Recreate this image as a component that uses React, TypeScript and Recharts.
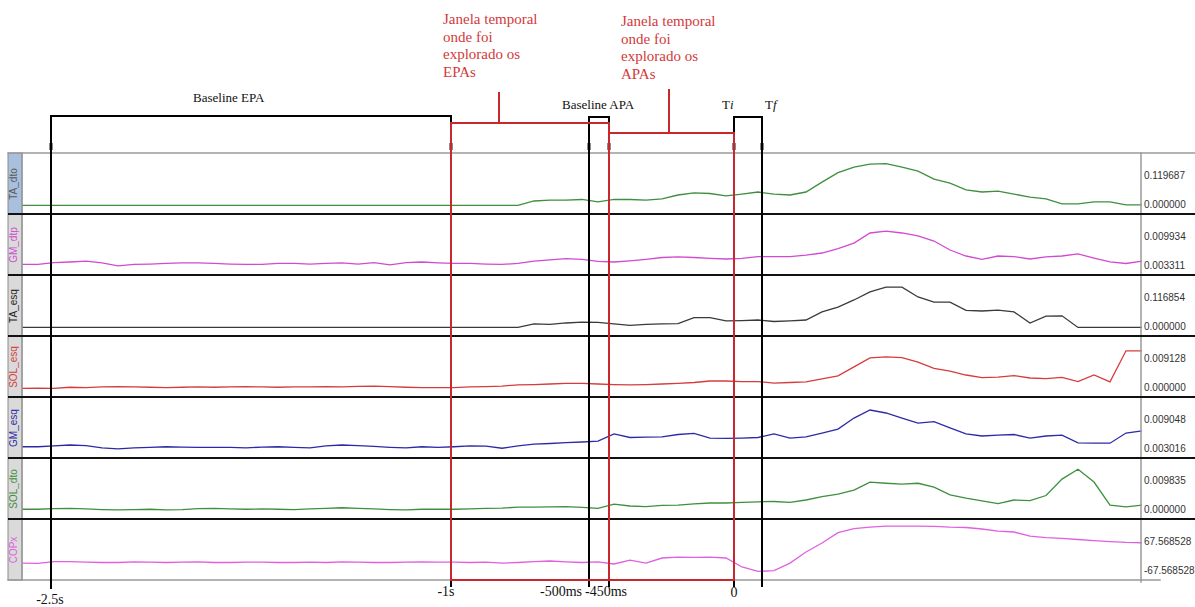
import { LineChart, Line, XAxis, YAxis, ReferenceLine, ReferenceArea } from 'recharts';

const W = 1195;
const H = 607;
const UNIT = 61; // px height of one channel strip
const ZERO_Y = 580; // px of the bottom edge of the last strip
const py = (px: number) => (ZERO_Y - px) / UNIT;

// sample positions along the record (one every 16 px of trace)
const samples = Array.from({ length: 71 }, (_, i) => 22 + 16 * i);

// amplitudes, 0 = lower scale label, 1 = upper scale label of each strip
const taDto = [
  0, 0, 0, 0, 0, 0, 0, 0, 0, 0, 0, 0, 0, 0, 0, 0, 0, 0, 0, 0, 0, 0, 0, 0, 0, 0, 0, 0, 0, 0, 0, 0,
  0.15, 0.18, 0.18, 0.2, 0.12, 0.2, 0.2, 0.18, 0.22, 0.35, 0.42, 0.4, 0.32, 0.38, 0.45, 0.38, 0.35, 0.45,
  0.78, 1.1, 1.28, 1.38, 1.4, 1.28, 1.15, 0.88, 0.75, 0.52, 0.45, 0.48, 0.38, 0.28, 0.22, 0.05, 0.05,
  0.12, 0.12, 0.02, 0.02,
];
const gmDtp = [
  0.07, 0.07, 0.13, 0.15, 0.18, 0.12, 0.02, 0.07, 0.08, 0.1,
  0.12, 0.12, 0.1, 0.08, 0.07, 0.07, 0.1, 0.1, 0.08, 0.1,
  0.12, 0.08, 0.13, 0.05, 0.13, 0.15, 0.12, 0.1, 0.1, 0.08,
  0.07, 0.1, 0.18, 0.22, 0.26, 0.24, 0.17, 0.15, 0.19, 0.24,
  0.3, 0.32, 0.3, 0.27, 0.25, 0.27, 0.33, 0.33, 0.33, 0.38,
  0.45, 0.6, 0.78, 1.12, 1.18, 1.12, 1.02, 0.85, 0.55, 0.35,
  0.24, 0.35, 0.33, 0.25, 0.32, 0.35, 0.42, 0.28, 0.15, 0.1, 0.18,
];
const taEsq = [
  0, 0, 0, 0, 0, 0, 0, 0, 0, 0, 0, 0, 0, 0, 0, 0, 0, 0, 0, 0, 0, 0, 0, 0, 0, 0, 0, 0, 0, 0, 0, 0,
  0.12, 0.1, 0.15, 0.18, 0.17, 0.12, 0.07, 0.1, 0.12, 0.13,
  0.33, 0.33, 0.22, 0.23, 0.25, 0.2, 0.22, 0.25, 0.52, 0.68,
  0.92, 1.19, 1.35, 1.35, 1.02, 0.85, 0.85, 0.57, 0.55, 0.58,
  0.52, 0.15, 0.38, 0.39, 0, 0, 0, 0, 0,
];
const solEsq = [
  0.0, 0.01, 0.0, 0.04, 0.03, 0.05, 0.06, 0.05, 0.04, 0.03, 0.04, 0.05, 0.04, 0.05, 0.06, 0.05,
  0.04, 0.05, 0.05, 0.06, 0.05, 0.07, 0.08, 0.06, 0.04,
  0.03, 0.03, 0.03, 0.05, 0.06, 0.08, 0.12,
  0.13, 0.15, 0.17, 0.17, 0.15, 0.13, 0.12, 0.13, 0.15, 0.17,
  0.2, 0.25, 0.25, 0.23, 0.23, 0.18, 0.2, 0.22, 0.32, 0.42,
  0.72, 1.02, 1.06, 1.03, 0.88, 0.67, 0.58, 0.45, 0.36, 0.38,
  0.43, 0.35, 0.33, 0.37, 0.23, 0.45, 0.22, 1.26, 1.26,
];
const gmEsq = [
  0.09, 0.09, 0.12, 0.15, 0.13, 0.05, 0.02, 0.05, 0.07, 0.09,
  0.08, 0.07, 0.07, 0.07, 0.05, 0.08, 0.09, 0.07, 0.05, 0.12,
  0.15, 0.13, 0.1, 0.07, 0.05, 0.09, 0.07, 0.09, 0.12, 0.11,
  0.04, 0.12, 0.18, 0.2, 0.23, 0.25, 0.28, 0.52, 0.4, 0.41,
  0.42, 0.5, 0.54, 0.38, 0.37, 0.38, 0.4, 0.52, 0.38, 0.42,
  0.55, 0.68, 1.05, 1.32, 1.22, 1.05, 0.88, 0.93, 0.72, 0.52,
  0.45, 0.48, 0.5, 0.38, 0.45, 0.48, 0.22, 0.21, 0.21, 0.55, 0.62,
];
const solDto = [
  0.04, 0.04, 0.06, 0.07, 0.05, 0.03, 0.02, 0.03, 0.04, 0.02,
  0.03, 0.06, 0.07, 0.05, 0.04, 0.05, 0.04, 0.03, 0.05, 0.07,
  0.09, 0.07, 0.05, 0.03, 0.02, 0.04, 0.04, 0.04, 0.05, 0.07,
  0.08, 0.11, 0.11, 0.12, 0.13, 0.1, 0.07, 0.21, 0.15, 0.13,
  0.17, 0.18, 0.22, 0.25, 0.25, 0.27, 0.29, 0.3, 0.27, 0.35,
  0.46, 0.55, 0.68, 0.95, 0.91, 0.88, 0.91, 0.78, 0.52, 0.41,
  0.32, 0.23, 0.35, 0.33, 0.5, 1.05, 1.38, 0.95, 0.18, 0.12, 0.18,
];
const copx = [
  0.28, 0.27, 0.33, 0.33, 0.31, 0.3, 0.3, 0.32, 0.31, 0.3,
  0.31, 0.32, 0.3, 0.3, 0.31, 0.31, 0.3, 0.3, 0.31, 0.3,
  0.32, 0.31, 0.3, 0.3, 0.31, 0.32, 0.31, 0.31, 0.3, 0.31,
  0.28, 0.3, 0.33, 0.35, 0.32, 0.3, 0.32, 0.25, 0.38, 0.28,
  0.45, 0.48, 0.47, 0.48, 0.45, 0.15, 0.0, 0.03, 0.28, 0.65,
  0.95, 1.3, 1.43, 1.48, 1.52, 1.52, 1.52, 1.51, 1.48, 1.47,
  1.42, 1.35, 1.32, 1.18, 1.13, 1.11, 1.07, 1.03, 1.0, 0.97, 0.96,
];

const channels = [
  { key: 'TA_dto', values: taDto, color: '#3f8f3f', text: '#5a5a5a', box: '#a8c0dd', hi: '0.119687', lo: '0.000000' },
  { key: 'GM_dtp', values: gmDtp, color: '#d24ad2', text: '#d24ad2', box: '#dadada', hi: '0.009934', lo: '0.003311' },
  { key: 'TA_esq', values: taEsq, color: '#3a3a3a', text: '#222222', box: '#dadada', hi: '0.116854', lo: '0.000000' },
  { key: 'SOL_esq', values: solEsq, color: '#d63c3c', text: '#d63c3c', box: '#dadada', hi: '0.009128', lo: '0.000000' },
  { key: 'GM_esq', values: gmEsq, color: '#2b2ba8', text: '#2b2ba8', box: '#dadada', hi: '0.009048', lo: '0.003016' },
  { key: 'SOL_dto', values: solDto, color: '#3f8f3f', text: '#3f8f3f', box: '#dadada', hi: '0.009835', lo: '0.000000' },
  { key: 'COPx', values: copx, color: '#e060e0', text: '#e060e0', box: '#dadada', hi: '67.568528', lo: '-67.568528' },
];

// event markers along the record
const markers = { epaStart: 51, minus1s: 451, minus500: 589, minus450: 609, zero: 734, tf: 762 };

const timeLabels = [
  { text: '-2.5s', x: 50, y: 600 },
  { text: '-1s', x: 446, y: 592 },
  { text: '-500ms', x: 561, y: 592 },
  { text: '-450ms', x: 606, y: 592 },
  { text: '0', x: 734, y: 593 },
];

const epaNote = ['Janela temporal', 'onde foi', 'explorado os', 'EPAs'];
const apaNote = ['Janela temporal', 'onde foi', 'explorado os', 'APAs'];

const LOW = 0.14;
const SPAN = 0.49;
const baseOf = (k: number) => channels.length - 1 - k;

const rows = samples.map((t, i) => {
  const row: Record<string, number> = { t };
  channels.forEach((c, k) => {
    row[c.key] = baseOf(k) + LOW + SPAN * c.values[i];
  });
  return row;
});

const RED = '#c8282d';
const serif = '"Liberation Serif", "DejaVu Serif", serif';
const sans = '"Liberation Sans", Arial, sans-serif';

function seg(x1: number, y1: number, x2: number, y2: number, stroke: string, w = 2) {
  return (
    <ReferenceLine
      key={`${x1}-${y1}-${x2}-${y2}-${stroke}`}
      segment={[{ x: x1, y: py(y1) }, { x: x2, y: py(y2) }]}
      stroke={stroke}
      strokeWidth={w}
      strokeLinecap="square"
    />
  );
}

export default function App() {
  const m = markers;
  return (
    <div style={{ position: 'absolute', left: 0, top: 0, width: W, height: H, background: '#fff', overflow: 'hidden' }}>
      <LineChart width={W} height={H} data={rows} margin={{ top: 0, right: 0, bottom: 0, left: 0 }}>
        <XAxis dataKey="t" type="number" domain={[0, W]} allowDataOverflow hide />
        <YAxis type="number" domain={[py(H), py(0)]} allowDataOverflow hide />

        {channels.map((c, k) => (
          <ReferenceArea
            key={`box-${c.key}`}
            x1={8}
            x2={22}
            y1={baseOf(k)}
            y2={baseOf(k) + 1}
            fill={c.box}
            fillOpacity={1}
            stroke="#8a8a8a"
            strokeWidth={1}
          />
        ))}

        {channels.map((c) => (
          <Line
            key={c.key}
            dataKey={c.key}
            type="linear"
            stroke={c.color}
            strokeWidth={1.3}
            dot={false}
            activeDot={false}
            legendType="none"
            isAnimationActive={false}
          />
        ))}

        {/* strip frame */}
        {seg(8, 153, 1195, 153, '#9a9a9a', 1.5)}
        {seg(8, 580, 1160, 580, '#9a9a9a', 1.5)}
        {seg(22, 153, 22, 580, '#9a9a9a', 1.5)}
        {seg(1141, 153, 1141, 582, '#9a9a9a', 1.5)}
        {[1, 2, 3, 4, 5, 6].map((b) => (
          <ReferenceLine
            key={`sep-${b}`}
            segment={[{ x: 8, y: b }, { x: 1195, y: b }]}
            stroke="#111"
            strokeWidth={2}
          />
        ))}

        {/* small event ticks */}
        {Object.values(m).map((x) => (
          <ReferenceArea key={`tick-${x}`} x1={x - 2} x2={x + 2} y1={py(150)} y2={py(143)} fill="#6b6b6b" fillOpacity={0.8} />
        ))}

        {/* black brackets */}
        {seg(m.epaStart, 116, m.epaStart, 588, '#000')}
        {seg(m.epaStart, 116, m.minus1s, 116, '#000')}
        {seg(m.minus1s, 116, m.minus1s, 586, '#000')}
        {seg(m.minus500, 117, m.minus500, 586, '#000')}
        {seg(m.minus500, 117, m.minus450, 117, '#000')}
        {seg(m.minus450, 117, m.minus450, 586, '#000')}
        {seg(m.zero, 117, m.zero, 586, '#000')}
        {seg(m.zero, 117, m.tf, 117, '#000')}
        {seg(m.tf, 117, m.tf, 586, '#000')}

        {/* red analysis windows */}
        {seg(m.minus1s, 123, m.minus450, 123, RED)}
        {seg(m.minus1s, 123, m.minus1s, 580, RED)}
        {seg(m.minus450, 123, m.minus450, 580, RED)}
        {seg(m.minus1s, 580, m.minus450, 580, RED)}
        {seg(499, 93, 499, 123, RED)}
        {seg(m.minus450, 133, m.zero, 133, RED)}
        {seg(m.zero, 133, m.zero, 580, RED)}
        {seg(m.minus450, 580, m.zero, 580, RED)}
        {seg(669, 90, 669, 133, RED)}
      </LineChart>

      {/* channel names */}
      {channels.map((c, k) => {
        const cy = ZERO_Y - UNIT * (baseOf(k) + 0.5);
        return (
          <div
            key={`name-${c.key}`}
            style={{
              position: 'absolute',
              left: 15 - 30,
              top: cy - 7,
              width: 60,
              height: 14,
              lineHeight: '14px',
              textAlign: 'center',
              transform: 'rotate(-90deg)',
              font: `10px ${sans}`,
              color: c.text,
            }}
          >
            {c.key}
          </div>
        );
      })}

      {/* scale labels */}
      {channels.map((c, k) => (
        <div key={`scale-${c.key}`}>
          <div
            style={{
              position: 'absolute',
              left: 1144,
              top: ZERO_Y - UNIT * (baseOf(k) + LOW + SPAN) - 7,
              font: `10px ${sans}`,
              lineHeight: '14px',
              color: '#333',
            }}
          >
            {c.hi}
          </div>
          <div
            style={{
              position: 'absolute',
              left: 1144,
              top: ZERO_Y - UNIT * (baseOf(k) + LOW) - 7,
              font: `10px ${sans}`,
              lineHeight: '14px',
              color: '#333',
            }}
          >
            {c.lo}
          </div>
        </div>
      ))}

      {/* time labels */}
      {timeLabels.map((l) => (
        <div
          key={l.text}
          style={{
            position: 'absolute',
            left: l.x - 40,
            width: 80,
            top: l.y - 7,
            textAlign: 'center',
            font: `14px ${serif}`,
            lineHeight: '14px',
            color: '#111',
          }}
        >
          {l.text}
        </div>
      ))}

      {/* annotations */}
      <div style={{ position: 'absolute', left: 193, top: 90, font: `13px ${serif}`, color: '#111' }}>Baseline EPA</div>
      <div style={{ position: 'absolute', left: 562, top: 97, font: `13px ${serif}`, color: '#111' }}>Baseline APA</div>
      <div style={{ position: 'absolute', left: 722, top: 97, font: `13px ${serif}`, color: '#111' }}>
        T<i>i</i>
      </div>
      <div style={{ position: 'absolute', left: 765, top: 97, font: `13px ${serif}`, color: '#111' }}>
        T<i>f</i>
      </div>
      <div style={{ position: 'absolute', left: 443, top: 11, font: `15px ${serif}`, lineHeight: '17.5px', color: '#d23a3a' }}>
        {epaNote.map((s) => (
          <div key={s}>{s}</div>
        ))}
      </div>
      <div style={{ position: 'absolute', left: 621, top: 13, font: `15px ${serif}`, lineHeight: '17.5px', color: '#d23a3a' }}>
        {apaNote.map((s) => (
          <div key={s}>{s}</div>
        ))}
      </div>
    </div>
  );
}
